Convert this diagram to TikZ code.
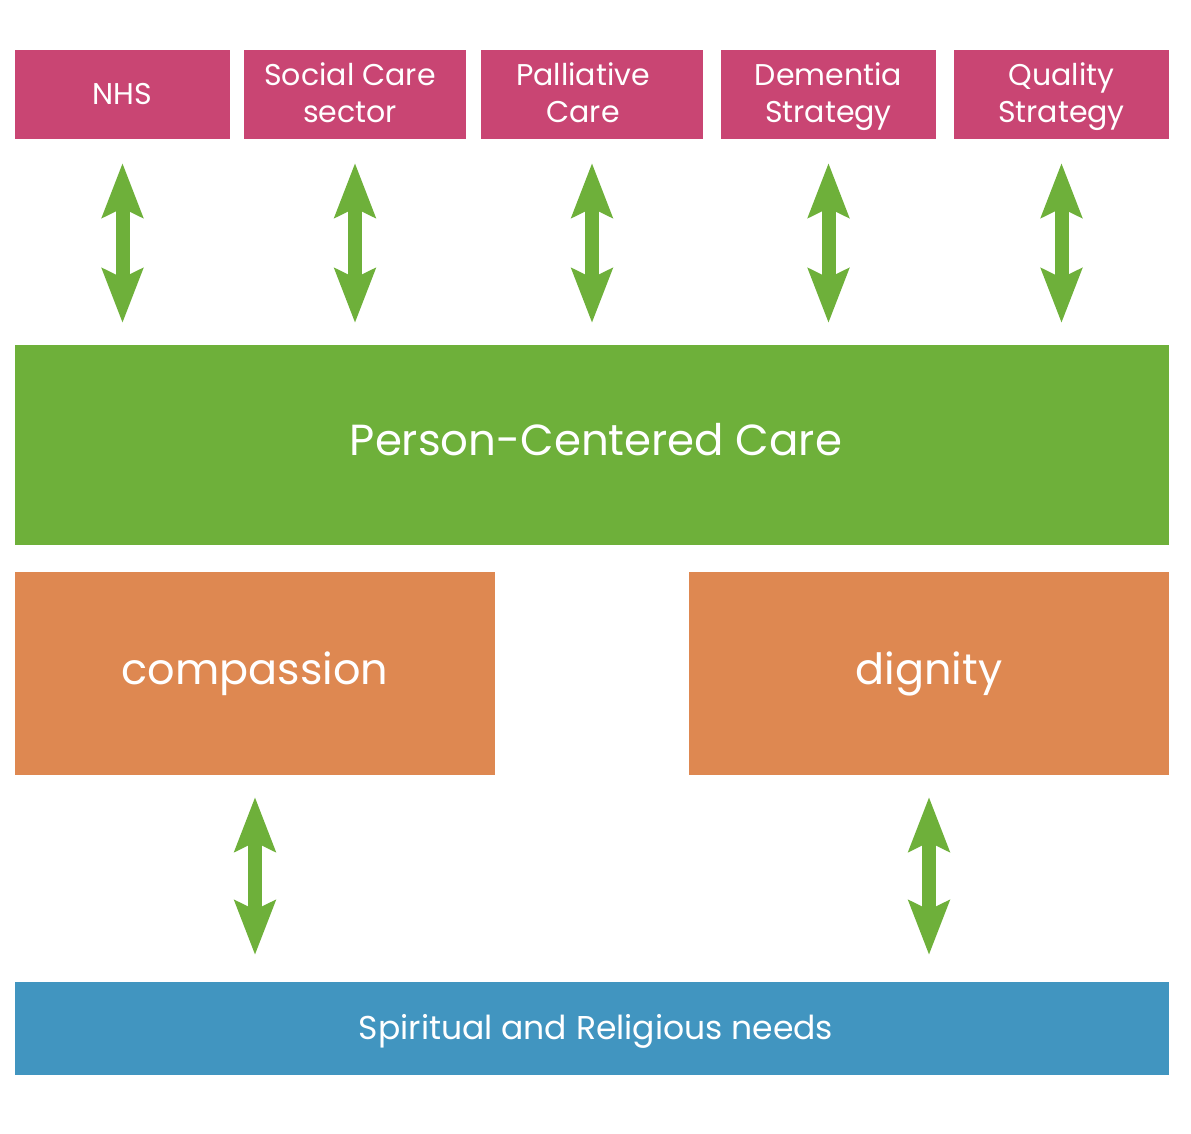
\documentclass[tikz,border=0pt]{standalone}
\usepackage{fontspec}
\setmainfont{Poppins}
\usetikzlibrary{arrows.meta}
\definecolor{cpink}{HTML}{C94573}
\definecolor{cgreen}{HTML}{6EB03A}
\definecolor{corange}{HTML}{DE8851}
\definecolor{cblue}{HTML}{4195C0}
\tikzset{
  box/.style={draw=none, inner sep=0pt, outer sep=0pt, text=white, align=center, anchor=north west},
  topbox/.style={box, fill=cpink, font=\fontsize{30}{37}\selectfont},
  bigbox/.style={box, font=\fontsize{43.5}{50}\selectfont},
  dbl/.style={draw=cgreen, line width=14pt,
    {Stealth[length=54pt,width=40pt,inset=9pt]}-{Stealth[length=54pt,width=40pt,inset=9pt]}},
}
\newcommand{\twolines}[3]{\raisebox{-#3}[\height][\depth]{\begin{tabular}{@{}c@{}}#1\\#2\end{tabular}}}
\begin{document}
\begin{tikzpicture}[x=1pt,y=-1pt]
\useasboundingbox (0,0) rectangle (1191,1134);
\fill[white] (0,0) rectangle (1191,1134);
\node[topbox, minimum width=215pt, minimum height=89pt] (nhs) at (15,50) {NHS};
\node[topbox, minimum width=222pt, minimum height=89pt] (soc) at (244,50) {\twolines{Social Care}{sector}{2pt}\hspace*{10pt}};
\node[topbox, minimum width=222pt, minimum height=89pt] (pal) at (481,50) {\twolines{Palliative}{Care}{2pt}\hspace*{18pt}};
\node[topbox, minimum width=215pt, minimum height=89pt] (dem) at (721,50) {\twolines{Dementia}{Strategy}{2pt}};
\node[topbox, minimum width=215pt, minimum height=89pt] (qua) at (954,50) {\twolines{Quality}{Strategy}{2pt}};
\node[bigbox, fill=cgreen, minimum width=1154pt, minimum height=200pt] (pcc) at (15,345) {\hspace*{8pt}\raisebox{5pt}[\height][\depth]{Person-Centered Care}};
\node[bigbox, fill=corange, minimum width=480pt, minimum height=203pt, font=\fontsize{43}{50}\selectfont] (com) at (15,572) {compassion};
\node[bigbox, fill=corange, minimum width=480pt, minimum height=203pt, font=\fontsize{43}{50}\selectfont] (dig) at (689,572) {dignity};
\node[box, fill=cblue, minimum width=1154pt, minimum height=93pt, font=\fontsize{33}{38}\selectfont] (spi) at (15,982) {\hspace*{8pt}\raisebox{-3pt}[\height][\depth]{Spiritual and Religious needs}};
\foreach \n in {nhs,soc,pal,dem,qua}{
  \draw[dbl, shorten <=24pt, shorten >=22pt] (\n.south) -- (\n.south |- pcc.north);
}
\foreach \n in {com,dig}{
  \draw[dbl, shorten <=22pt, shorten >=27pt] (\n.south) -- (\n.south |- spi.north);
}
\end{tikzpicture}
\end{document}
